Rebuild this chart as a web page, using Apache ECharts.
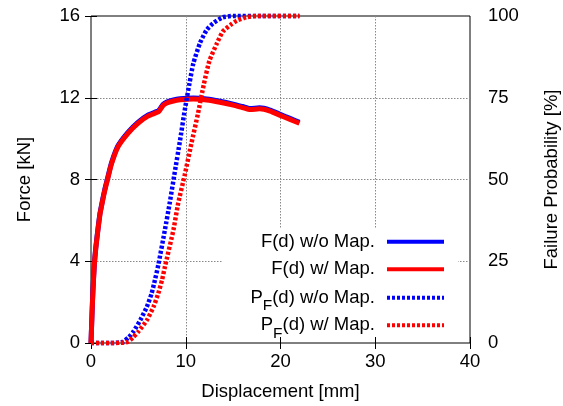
<!DOCTYPE html>
<html>
<head>
<meta charset="utf-8">
<script src="https://cdn.jsdelivr.net/npm/echarts@6/dist/echarts.min.js"></script>
<style>
  html, body { margin: 0; padding: 0; background: #fff; }
  #chart { width: 563px; height: 406px; }
</style>
</head>
<body>
<div id="chart"></div>
<script>
// Load-displacement response and failure probability, with and without mapping.
const forceDisp = [0, 0.1, 0.2, 0.35, 0.5, 0.7, 0.95, 1.2, 1.45, 1.8, 2.15, 2.85, 3.9, 4.95, 6.0, 6.9, 7.15, 7.6, 8.0, 8.6, 9.4, 10.8, 12.2, 13.6, 15.0, 16.0, 16.8, 17.8, 18.9, 19.9, 21.0, 22.0];
const forceNoMap = [0, 1.35, 2.55, 3.85, 4.65, 5.45, 6.35, 6.95, 7.5, 8.15, 8.8, 9.65, 10.31, 10.8, 11.15, 11.32, 11.37, 11.67, 11.79, 11.88, 11.95, 11.99, 11.94, 11.83, 11.69, 11.57, 11.47, 11.51, 11.4, 11.2, 10.99, 10.8];
const forceMap = [0, 1.3, 2.5, 3.8, 4.6, 5.4, 6.3, 6.9, 7.45, 8.1, 8.75, 9.6, 10.26, 10.75, 11.1, 11.27, 11.32, 11.62, 11.74, 11.83, 11.9, 11.94, 11.89, 11.78, 11.64, 11.52, 11.42, 11.46, 11.35, 11.15, 10.94, 10.75];

const probDispNoMap = [0, 1, 2, 2.6, 3.0, 3.4, 4.0, 4.5, 5.2, 5.9, 6.4, 6.75, 7.1, 7.8, 8.3, 8.8, 9.4, 9.9, 10.4, 10.8, 11.5, 12.2, 12.9, 13.9, 15.0, 18, 22];
const probNoMap = [0, 0, 0, 0.05, 0.15, 0.4, 1.8, 3.6, 7.0, 11.1, 15.2, 19.3, 23.8, 34.6, 42.7, 51.5, 62, 71.3, 79.5, 85.5, 91.7, 95.7, 97.8, 99.6, 100, 100, 100];
const probDispMap = [0, 1, 2, 3.0, 3.5, 3.9, 4.4, 5.0, 5.9, 6.6, 7.1, 7.5, 7.8, 8.7, 9.2, 9.9, 10.6, 11.3, 11.9, 12.5, 13.3, 13.9, 14.7, 15.4, 16.4, 17.5, 22];
const probMap = [0, 0, 0, 0.05, 0.15, 0.4, 1.6, 3.5, 7.0, 11.1, 15.2, 19.3, 23.3, 34.6, 42.7, 51.5, 61.1, 70.3, 79, 86.3, 91.7, 95.2, 97.2, 98.6, 99.6, 100, 100];

const seriesNames = ['F(d) w/o Map.', 'F(d) w/ Map.', 'P_F(d) w/o Map.', 'P_F(d) w/ Map.'];

const FONT = '"Liberation Sans", Arial, Helvetica, sans-serif';
const FS = 18.5;
const BLUE = '#0000ff';
const RED = '#ff0000';
const DOTS = [3, 2];

const zip = (xs, ys) => xs.map((x, i) => [x, ys[i]]);

const labelStyle = { fontSize: FS, color: '#000', fontFamily: FONT };
const gridLine = { show: true, showMinLine: false, showMaxLine: false, lineStyle: { color: '#888', width: 1, type: [1.5, 1.5] } };
const ticks = { show: true, inside: true, length: 6, lineStyle: { color: '#000', width: 1 } };

function lineSeries(name, yAxisIndex, data, color, dashed) {
  return {
    name, type: 'line', xAxisIndex: 0, yAxisIndex, data,
    symbol: 'none', showSymbol: false, smooth: 0.2, clip: false,
    lineStyle: { color, width: dashed ? 4.5 : 5, type: dashed ? DOTS : 'solid', cap: 'butt' },
    itemStyle: { color },
    emphasis: { disabled: true }
  };
}

// one key entry per row, stacked like a gnuplot key (text right-aligned, sample on the right);
// rows with a subscript get a taller text box, so their top is pulled up a little
const keyRowTop = [230.7, 258.3, 281.2, 308.8];
const legends = seriesNames.map((name, i) => ({
  orient: 'vertical', right: 117, top: keyRowTop[i], padding: 0,
  align: 'right', itemWidth: 57, itemHeight: 22,
  selectedMode: false,
  data: [name],
  formatter: n => n.replace('P_F', 'P{s|F}'),
  itemStyle: { color: 'rgba(0,0,0,0)', borderColor: 'rgba(0,0,0,0)', borderWidth: 0, opacity: 0 },
  lineStyle: { width: 4 },
  textStyle: {
    fontSize: FS, lineHeight: 22, color: '#000', fontFamily: FONT, padding: [0, 7, 0, 0],
    rich: { s: { fontSize: 15.5, lineHeight: 22, padding: [17, 0, 0, 0], color: '#000', fontFamily: FONT } }
  }
}));

const chart = echarts.init(document.getElementById('chart'), null, { renderer: 'canvas' });
chart.setOption({
  animation: false,
  backgroundColor: '#fff',
  grid: {
    left: 91, right: 93, top: 16, bottom: 63,
    containLabel: false, outerBoundsMode: 'none',
    show: true, borderColor: '#000', borderWidth: 1, backgroundColor: 'transparent'
  },
  // opaque key box: hides the grid lines behind the key
  graphic: [{
    type: 'rect', z: 1, silent: true,
    shape: { x: 223, y: 228, width: 235, height: 108 },
    style: { fill: '#fff' }
  }],
  legend: legends,
  xAxis: [
    {
      type: 'value', position: 'bottom', min: 0, max: 40, interval: 10,
      axisLine: { show: false }, axisTick: ticks,
      axisLabel: Object.assign({ margin: 9 }, labelStyle),
      splitLine: gridLine,
      name: 'Displacement [mm]', nameLocation: 'middle', nameGap: 39, nameTextStyle: labelStyle
    },
    {
      type: 'value', position: 'top', min: 0, max: 40, interval: 10,
      axisLine: { show: false }, axisTick: ticks, axisLabel: { show: false }, splitLine: { show: false }
    }
  ],
  yAxis: [
    {
      type: 'value', position: 'left', min: 0, max: 16, interval: 4,
      axisLine: { show: false }, axisTick: ticks,
      axisLabel: Object.assign({ margin: 11 }, labelStyle),
      splitLine: gridLine,
      name: 'Force [kN]', nameLocation: 'middle', nameGap: 57, nameRotate: 90, nameTextStyle: labelStyle
    },
    {
      type: 'value', position: 'right', min: 0, max: 100, interval: 25,
      axisLine: { show: false }, axisTick: ticks,
      axisLabel: Object.assign({ margin: 18 }, labelStyle),
      splitLine: { show: false },
      name: 'Failure Probability [%]', nameLocation: 'middle', nameGap: 72, nameRotate: 90, nameTextStyle: labelStyle
    }
  ],
  series: [
    lineSeries(seriesNames[0], 0, zip(forceDisp, forceNoMap), BLUE, false),
    lineSeries(seriesNames[1], 0, zip(forceDisp, forceMap), RED, false),
    lineSeries(seriesNames[2], 1, zip(probDispNoMap, probNoMap), BLUE, true),
    lineSeries(seriesNames[3], 1, zip(probDispMap, probMap), RED, true)
  ]
});
</script>
</body>
</html>
